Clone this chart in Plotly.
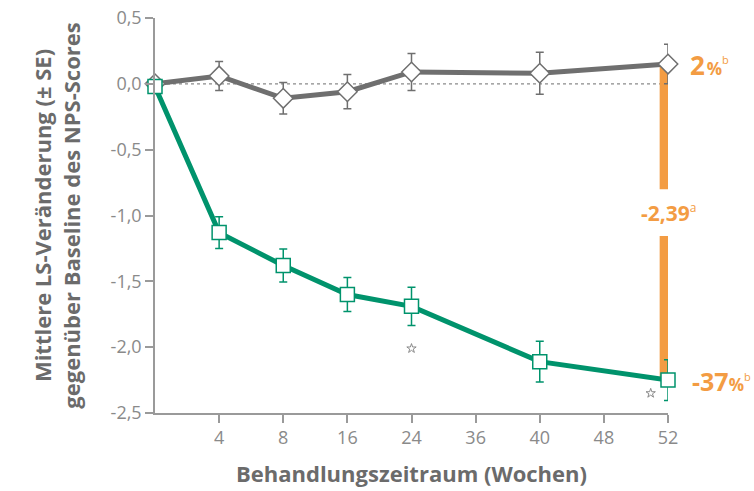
import plotly.graph_objects as go

# ---- data ----
tick_labels = ["4", "8", "16", "24", "36", "40", "48", "52"]
weeks_all = ["0"] + tick_labels  # categorical positions (0 = origin)
weeks_data = ["0", "4", "8", "16", "24", "40", "52"]

placebo_vals = [0.00, 0.06, -0.11, -0.06, 0.09, 0.08, 0.15]
placebo_se = [0.0, 0.11, 0.12, 0.13, 0.14, 0.16, 0.15]

active_vals = [-0.02, -1.13, -1.38, -1.60, -1.69, -2.11, -2.25]
active_se = [0.0, 0.12, 0.125, 0.13, 0.145, 0.155, 0.155]

star_weeks = ["24", "52"]
star_y = [-2.01, -2.35]

diff_label = "-2,39"
placebo_pct = "2"
active_pct = "-37"

GREEN = "#00936c"
GRAY = "#6f6f6f"
ORANGE = "#f39c43"
AXIS = "#9a9a9a"
TXT = "#6b6b6b"
FONT = "Open Sans"

pos = {w: i for i, w in enumerate(weeks_all)}
xd = [pos[w] for w in weeks_data]
xlast = xd[-1]

fig = go.Figure()

# zero dotted line
fig.add_shape(type="line", x0=0, x1=len(weeks_all) - 1, y0=0, y1=0,
              line=dict(color="#8a8a8a", width=1.2, dash="dot"), layer="below")

# orange difference bar (split around label)
bw = 0.13
gap_top, gap_bot = -0.80, -1.155
fig.add_shape(type="rect", x0=xlast - bw, x1=xlast + bw, y0=placebo_vals[-1], y1=gap_top,
              fillcolor=ORANGE, line=dict(width=0), layer="below")
fig.add_shape(type="rect", x0=xlast - bw, x1=xlast + bw, y0=gap_bot, y1=active_vals[-1],
              fillcolor=ORANGE, line=dict(width=0), layer="below")

fig.add_trace(go.Scatter(
    x=xd, y=placebo_vals, mode="lines+markers",
    line=dict(color=GRAY, width=5),
    marker=dict(symbol="diamond", size=15, color="white", line=dict(color=GRAY, width=1.5)),
    error_y=dict(type="data", array=placebo_se, color=GRAY, thickness=1.5, width=4),
    cliponaxis=False, showlegend=False))

fig.add_trace(go.Scatter(
    x=xd, y=active_vals, mode="lines+markers",
    line=dict(color=GREEN, width=5),
    marker=dict(symbol="square", size=14, color="white", line=dict(color=GREEN, width=1.5)),
    error_y=dict(type="data", array=active_se, color=GREEN, thickness=1.5, width=4),
    cliponaxis=False, showlegend=False))

# stars
fig.add_trace(go.Scatter(
    x=[pos["24"], pos["52"] - 0.27], y=star_y, mode="markers",
    marker=dict(symbol="star-open", size=7, color="#8a8a8a", line=dict(width=1)),
    cliponaxis=False, showlegend=False, hoverinfo="skip"))

# labels
fig.add_annotation(x=xlast, y=(gap_top + gap_bot) / 2, xref="x", yref="y",
                   text=f"<b>{diff_label}</b><sup><span style='font-size:12px'>a</span></sup>",
                   showarrow=False, font=dict(family=FONT, size=21, color=ORANGE))
fig.add_annotation(x=xlast, y=placebo_vals[-1], xref="x", yref="y", xanchor="left",
                   xshift=20, yshift=-1,
                   text=f"<b>{placebo_pct}</b><b><span style='font-size:7px'> </span>"
                        f"<span style='font-size:17px'>%</span></b>"
                        f"<sup><span style='font-size:11px'>b</span></sup>",
                   showarrow=False, font=dict(family=FONT, size=26, color=ORANGE))
fig.add_annotation(x=xlast, y=active_vals[-1], xref="x", yref="y", xanchor="left",
                   xshift=22, yshift=-1,
                   text=f"<b>{active_pct}</b><b><span style='font-size:17px'>%</span></b>"
                        f"<sup><span style='font-size:11px'>b</span></sup>",
                   showarrow=False, font=dict(family=FONT, size=25, color=ORANGE))

fig.update_layout(
    width=754, height=491,
    margin=dict(l=155, r=86, t=18, b=78, autoexpand=False),
    plot_bgcolor="white", paper_bgcolor="white",
    font=dict(family=FONT, color=TXT),
    xaxis=dict(range=[0, len(weeks_all) - 1],
               tickvals=list(range(1, len(weeks_all))), ticktext=tick_labels,
               showgrid=False, zeroline=False, showline=True, linecolor=AXIS, linewidth=1.5,
               ticks="outside", ticklen=8, tickcolor=AXIS, tickwidth=1.5,
               tickfont=dict(size=18, color="#8a8a8a"), automargin=False,
               title=dict(text="<b>Behandlungszeitraum (Wochen)</b>",
                          font=dict(size=22, color=TXT), standoff=18)),
    yaxis=dict(range=[-2.5, 0.5], tickvals=[0.5, 0, -0.5, -1.0, -1.5, -2.0, -2.5],
               ticktext=["0,5", "0,0", "-0,5", "-1,0", "-1,5", "-2,0", "-2,5"],
               showgrid=False, zeroline=False, showline=True, linecolor=AXIS, linewidth=1.5,
               ticks="outside", ticklen=8, tickcolor=AXIS, tickwidth=1.5,
               tickfont=dict(size=18, color="#8a8a8a"), automargin=False,
               title=dict(text="<b>Mittlere LS-Veränderung (± SE)<br>gegenüber Baseline des NPS-Scores</b>",
                          font=dict(size=22, color=TXT), standoff=24)),
)

fig.write_html("out.html", config={"displayModeBar": False},
               post_script="document.body.style.margin='0';")
